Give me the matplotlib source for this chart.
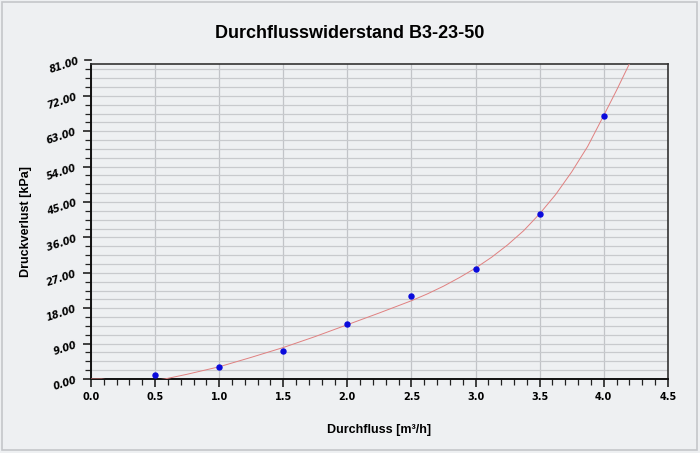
import numpy as np
import matplotlib
matplotlib.use("Agg")
import matplotlib.pyplot as plt
from matplotlib.patches import Rectangle
from matplotlib.ticker import MultipleLocator, FormatStrFormatter
import matplotlib.transforms as mtransforms

# measured points
flow = [0.5, 1.0, 1.5, 2.0, 2.5, 3.0, 3.5, 4.0]
dp = [0.9, 3.0, 7.0, 14.0, 21.0, 28.0, 42.0, 67.0]

# trend line
trend_x = [0.0, 0.08, 0.33, 0.575, 0.75, 1.0, 1.25, 1.5, 1.75, 2.0, 2.25, 2.5,
           2.625, 2.75, 2.875, 3.0, 3.125, 3.25, 3.375, 3.5, 3.625, 3.75,
           3.875, 4.0, 4.1, 4.21]
trend_y = [0.0, 0.0, -1.0, 0.0, 1.2, 3.1, 5.5, 8.0, 10.8, 13.8, 16.8, 19.9,
           21.65, 23.6, 25.8, 28.2, 30.95, 34.1, 37.7, 42.0, 46.9, 52.65,
           59.15, 67.0, 73.4, 80.8]

title = "Durchflusswiderstand B3-23-50"
xlabel = "Durchfluss [m³/h]"
ylabel = "Druckverlust [kPa]"

bg = "#eef0f2"
plt.rcParams["font.family"] = ["Liberation Sans", "DejaVu Sans"]
tick_font = "DejaVu Sans"

fig = plt.figure(figsize=(7, 4.53), dpi=100, facecolor=bg)
ax = fig.add_axes([0.13, 0.1634, 0.824, 0.6953], facecolor=bg)

ax.plot(trend_x, trend_y, color="#e08080", lw=0.7, zorder=3)
ax.plot(flow, dp, "o", color="#0a0adc", ms=3.6, zorder=4)

ax.set_xlim(0, 4.5)
ax.set_ylim(0, 80.1)
ax.xaxis.set_major_locator(MultipleLocator(0.5))
ax.xaxis.set_minor_locator(MultipleLocator(0.1))
ax.yaxis.set_major_locator(MultipleLocator(9))
ax.yaxis.set_minor_locator(MultipleLocator(2.25))
ax.xaxis.set_major_formatter(FormatStrFormatter("%.1f"))
ax.yaxis.set_major_formatter(FormatStrFormatter("%.2f"))

ax.grid(True, which="major", axis="x", color="#c2c4c8", lw=0.9)
ax.grid(True, which="both", axis="y", color="#c8cacd", lw=0.9)
ax.set_axisbelow(True)

ax.tick_params(axis="both", which="major", direction="out", length=6, width=1.2,
               color="#222222", labelsize=7)
ax.tick_params(axis="both", which="minor", direction="out", length=4, width=0.9,
               color="#222222")
for lab in ax.get_yticklabels():
    lab.set_rotation(18)
    lab.set_fontweight("bold")
    lab.set_fontstyle("italic")
    lab.set_family(tick_font)
for lab in ax.get_xticklabels():
    lab.set_fontweight("bold")
    lab.set_family(tick_font)

for s in ["left", "bottom"]:
    ax.spines[s].set_color("#111111")
    ax.spines[s].set_linewidth(1.4)
for s in ["top", "right"]:
    ax.spines[s].set_color("#333333")
    ax.spines[s].set_linewidth(1.2)

# the 81.00 tick sits just above the frame
trans = mtransforms.blended_transform_factory(ax.transAxes, ax.transData)
ax.plot([-0.011, 0.0], [81, 81], transform=trans, color="#222222", lw=1.2, clip_on=False)
ax.text(-0.02, 81, "81.00", transform=trans, ha="right", va="center", fontsize=7,
        fontweight="bold", fontstyle="italic", rotation=18, rotation_mode="anchor",
        family=tick_font)

ax.set_xlabel(xlabel, fontsize=9, fontweight="bold", labelpad=16)
ax.set_ylabel(ylabel, fontsize=9, fontweight="bold", labelpad=10)
fig.text(0.5, 0.925, title, ha="center", va="center", fontsize=13, fontweight="bold")

fig.patches.append(Rectangle((0.003, 0.006), 0.993, 0.99, transform=fig.transFigure,
                             fill=False, edgecolor="#c4c6ca", lw=1.2))

fig.savefig("out.png", dpi=100, facecolor=bg)
